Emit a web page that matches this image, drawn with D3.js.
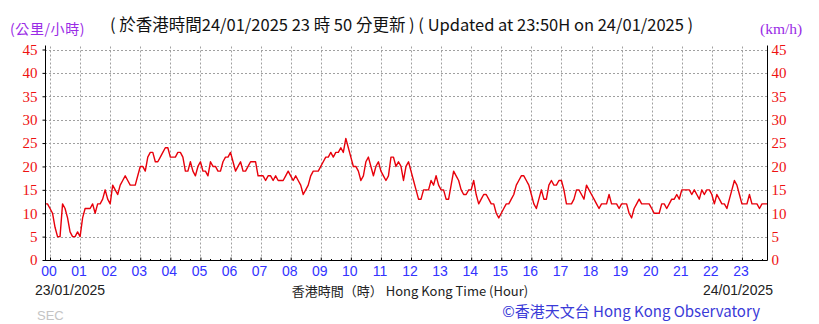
<!DOCTYPE html>
<html><head><meta charset="utf-8">
<script src="https://cdn.jsdelivr.net/npm/d3@7"></script>
<style>
html,body{margin:0;padding:0;background:#fff;}
svg{display:block;}
</style></head>
<body>
<svg id="chart" width="819" height="324"></svg>
<script>
// ---- data ----
const hourLabels = ["00","01","02","03","04","05","06","07","08","09","10","11","12","13","14","15","16","17","18","19","20","21","22","23"];
const yTicks = [0,5,10,15,20,25,30,35,40,45];
const startMinute = -10;   // 23:50 on 23/01/2025
const stepMinutes = 5;
// wind speed (km/h), every 5 minutes from 23:50 (23/01) to 23:50 (24/01)
const speeds = [
  12,12,11,10,7,5,5,12,11,9,6,5,
  5,6,5,9,11,11,11,12,10,12,12,13,
  15,13,12,16,15,14,16,17,18,17,16,16,
  16,18,20,20,19,22,23,23,21,21,22,23,
  24,24,22,22,22,23,23,22,19,19,21,19,
  18,20,21,19,19,18,21,20,20,19,19,21,
  22,22,23,21,19,20,21,19,19,20,21,21,
  21,18,18,18,17,18,18,17,18,17,17,17,
  18,19,18,17,18,17,16,14,15,16,18,19,
  19,19,20,21,22,22,23,22,23,23,24,23,
  26,24,22,20,20,19,17,18,21,22,20,18,
  20,21,19,18,17,18,22,22,20,21,20,17,
  20,21,19,17,15,13,13,15,15,15,17,16,
  18,16,15,15,13,13,16,19,18,17,15,14,
  14,15,15,17,14,12,13,14,14,13,12,12,
  10,9,10,11,12,12,13,14,16,17,18,18,
  17,16,14,12,11,13,15,13,13,16,17,16,
  16,17,17,15,12,12,12,13,15,15,14,13,
  16,15,14,13,12,11,12,12,12,14,12,12,
  12,11,12,12,12,10,9,11,12,13,12,12,
  12,12,11,10,10,10,12,12,11,12,13,13,
  14,13,15,15,15,15,14,15,14,13,15,14,
  15,15,14,12,14,13,12,12,11,13,15,17,
  16,14,12,12,12,14,12,12,12,11,12,12,
  12
];
const titleText = "( 於香港時間24/01/2025 23 時 50 分更新 ) ( Updated at 23:50H on 24/01/2025 )";
const unitLeft = "(公里/小時)";
const unitRight = "(km/h)";
const dateLeft = "23/01/2025";
const dateRight = "24/01/2025";
const xTitle = "香港時間（時） Hong Kong Time (Hour)";
const credit = "©香港天文台 Hong Kong Observatory";

// ---- layout ----
const svg = d3.select("#chart");
const L = 45, R = 767, T = 49.5, B = 260;
const x = d3.scaleLinear().domain([startMinute, startMinute + stepMinutes*(speeds.length-1)]).range([L, R]);
const y = d3.scaleLinear().domain([0, 45]).range([B, T]);
const sans = "'Liberation Sans', Arial, sans-serif";
const cjk = "'Noto Sans CJK TC', 'Noto Sans', sans-serif";
const hourVals = hourLabels.map((d,i)=>i*60);

// grid
const grid = svg.append("g").attr("stroke","#a0a0a0").attr("stroke-width",1).attr("stroke-dasharray","2,2");
grid.selectAll("line.h").data(yTicks.filter(d=>d>0)).join("line")
  .attr("x1",L).attr("x2",R).attr("y1",d=>Math.round(y(d))+0.5).attr("y2",d=>Math.round(y(d))+0.5);
grid.selectAll("line.v").data(hourVals).join("line")
  .attr("x1",d=>Math.round(x(d))+0.5).attr("x2",d=>Math.round(x(d))+0.5).attr("y1",T-3).attr("y2",B);

// line
const data = speeds.map((v,i)=>({t:startMinute+i*stepMinutes, v}));
svg.append("path").datum(data)
  .attr("fill","none").attr("stroke","#e8000b").attr("stroke-width",1.4).attr("stroke-linejoin","round")
  .attr("d", d3.line().x(d=>x(d.t)).y(d=>y(d.v)));

// axes
const gl = svg.append("g").attr("transform",`translate(${L+0.5},0)`)
  .call(d3.axisLeft(y).tickValues(yTicks).tickSizeInner(3).tickSizeOuter(0).tickPadding(5));
const gr = svg.append("g").attr("transform",`translate(${R+0.5},0)`)
  .call(d3.axisRight(y).tickValues(yTicks).tickSizeInner(0).tickSizeOuter(0).tickPadding(4));
[gl,gr].forEach(g=>{
  g.select(".domain").attr("stroke","#000").attr("d",`M0,${T-4}V${B+0.5}`);
  g.selectAll("text").attr("fill","#ee1111").style("font-family","'Liberation Serif', serif").style("font-size","15px");
  g.selectAll("line").attr("stroke","#000");
});
const gb = svg.append("g").attr("transform",`translate(0,${B+0.5})`)
  .call(d3.axisBottom(x).tickValues(hourVals).tickFormat((d,i)=>hourLabels[i]).tickSizeInner(-3).tickSizeOuter(0).tickPadding(6));
gb.select(".domain").attr("stroke","#000").attr("d",`M${L},0H${R+0.5}`);
gb.selectAll("line").attr("stroke","#000");
gb.selectAll("text").attr("fill","#3333ff").attr("dx","-1.5").style("font-family",sans).style("font-size","14px");
// minor ticks every 20 minutes
const minor = d3.range(startMinute+10, startMinute+stepMinutes*(speeds.length-1), 20).filter(m=>m%60!==0);
svg.append("g").selectAll("line").data(minor).join("line")
  .attr("x1",d=>Math.round(x(d))+0.5).attr("x2",d=>Math.round(x(d))+0.5).attr("y1",B-1).attr("y2",B).attr("stroke","#000");

// texts
svg.append("text").attr("x",110).attr("y",31).attr("fill","#111").style("font-family",cjk).style("font-size","16.5px").text(titleText);
svg.append("text").attr("x",10).attr("y",34).attr("fill","#9a2be6").attr("letter-spacing","0.6").style("font-family",cjk).style("font-size","14px").text(unitLeft);
svg.append("text").attr("x",760).attr("y",34).attr("fill","#9a2be6").style("font-family","'Liberation Serif', serif").style("font-size","15.5px").text(unitRight);
svg.append("text").attr("x",35).attr("y",295).attr("fill","#222").style("font-family",sans).style("font-size","14px").text(dateLeft);
svg.append("text").attr("x",773).attr("y",295).attr("text-anchor","end").attr("fill","#222").style("font-family",sans).style("font-size","14px").text(dateRight);
svg.append("text").attr("x",410).attr("y",295.5).attr("text-anchor","middle").attr("fill","#222").style("font-family",cjk).style("font-size","13px").text(xTitle);
svg.append("text").attr("x",760).attr("y",317).attr("text-anchor","end").attr("fill","#3a3ad8").style("font-family",cjk).style("font-size","15px").text(credit);
svg.append("text").attr("x",37).attr("y",320).attr("fill","#c4c4c4").style("font-family",sans).style("font-size","13px").text("SEC");
</script>
</body></html>
